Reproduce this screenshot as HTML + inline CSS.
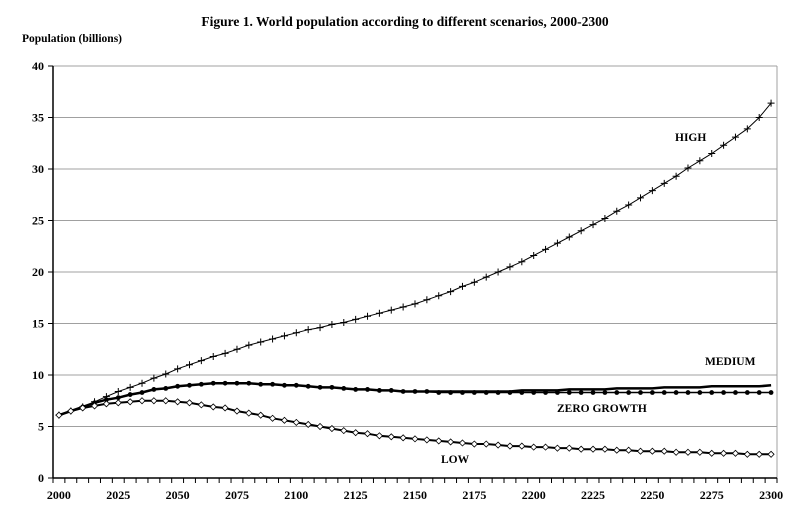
<!DOCTYPE html>
<html><head><meta charset="utf-8"><style>
body{margin:0;background:#fff;}
svg{display:block;font-family:"Liberation Serif",serif;font-weight:bold;}
</style></head><body>
<svg id="c" width="811" height="522">
<text x="405" y="26" text-anchor="middle" font-size="13.5">Figure 1. World population according to different scenarios, 2000-2300</text>
<text x="22" y="42" font-size="11.5">Population (billions)</text>
<g id="grid"></g><g id="series"></g><g id="axes"></g>
<text x="675" y="141" font-size="11.5">HIGH</text>
<text x="705" y="365" font-size="11.5">MEDIUM</text>
<text x="557" y="412" font-size="11.5">ZERO GROWTH</text>
<text x="441" y="463" font-size="11.5">LOW</text>
</svg>
<script>
const yTicks=[0,5,10,15,20,25,30,35,40];
const xLabels=[2000,2025,2050,2075,2100,2125,2150,2175,2200,2225,2250,2275,2300];
const years=[];for(let y=2000;y<=2300;y+=5)years.push(y);
const high=[6.1,6.5,6.9,7.4,7.9,8.4,8.8,9.2,9.7,10.1, 10.6,11.0,11.4,11.8,12.1,12.5,12.9,13.2,13.5,13.8, 14.1,14.4,14.6,14.9,15.1,15.4,15.7,16.0,16.3,16.6, 16.9,17.3,17.7,18.1,18.6,19.0,19.5,20.0,20.5,21.0, 21.6,22.2,22.8,23.4,24.0,24.6,25.2,25.9,26.5,27.2, 27.9,28.6,29.3,30.1,30.8,31.5,32.3,33.1,33.9,35.0,36.4];
const medium=[6.1,6.5,6.9,7.3,7.6,7.8,8.1,8.3,8.6,8.7, 8.9,9.0,9.1,9.2,9.2,9.2,9.2,9.1,9.1,9.0, 9.0,8.9,8.8,8.8,8.7,8.6,8.6,8.5,8.5,8.4, 8.4,8.4,8.4,8.4,8.4,8.4,8.4,8.4,8.4,8.5, 8.5,8.5,8.5,8.6,8.6,8.6,8.6,8.7,8.7,8.7, 8.7,8.8,8.8,8.8,8.8,8.9,8.9,8.9,8.9,8.9,9.0];
const zero=[6.1,6.5,6.9,7.3,7.6,7.8,8.1,8.3,8.6,8.7, 8.9,9.0,9.1,9.2,9.2,9.2,9.2,9.1,9.1,9.0, 9.0,8.9,8.8,8.8,8.7,8.6,8.6,8.5,8.5,8.4, 8.4,8.4,8.3,8.3,8.3,8.3,8.3,8.3,8.3,8.3, 8.3,8.3,8.3,8.3,8.3,8.3,8.3,8.3,8.3,8.3, 8.3,8.3,8.3,8.3,8.3,8.3,8.3,8.3,8.3,8.3,8.3];
const low=[6.1,6.5,6.8,7.0,7.2,7.3,7.4,7.5,7.5,7.5, 7.4,7.3,7.1,6.9,6.8,6.5,6.3,6.1,5.8,5.6, 5.4,5.2,5.0,4.8,4.6,4.4,4.3,4.1,4.0,3.9, 3.8,3.7,3.6,3.5,3.4,3.3,3.3,3.2,3.1,3.1, 3.0,3.0,2.9,2.9,2.8,2.8,2.8,2.7,2.7,2.6, 2.6,2.6,2.5,2.5,2.5,2.4,2.4,2.4,2.3,2.3,2.3];

const NS="http://www.w3.org/2000/svg";
const L=53,R=777,T=66,B=478,yMax=40;
const cw=(R-L)/years.length;
const xs=yr=>L+((yr-2000)/5+0.5)*cw;
const ys=v=>B-v/yMax*(B-T);
function mk(tag,attrs,parent){const e=document.createElementNS(NS,tag);for(const k in attrs)e.setAttribute(k,attrs[k]);parent.appendChild(e);return e;}
const grid=document.getElementById('grid'),axes=document.getElementById('axes'),ser=document.getElementById('series');
yTicks.forEach(v=>{
  if(v>0){const g=mk('line',{x1:L,x2:R,y1:ys(v),y2:ys(v),stroke:'#a0a0a0','stroke-width':1},grid);
  
  }
  const t=mk('line',{x1:L-5,x2:L,y1:ys(v),y2:ys(v),stroke:'#000'},axes);
  
  
  const tx=mk('text',{x:L-9,y:ys(v)+4,'text-anchor':'end','font-size':12},axes);tx.textContent=v;
  
  
});
const rb=mk('line',{x1:R,x2:R,y1:T,y2:B,stroke:'#a0a0a0'},grid);


const ya=mk('line',{x1:L,x2:L,y1:T,y2:B,stroke:'#000','stroke-width':1.5},axes);


const xa=mk('line',{x1:L,x2:R,y1:B,y2:B,stroke:'#000','stroke-width':1.5},axes);


for(let i=0;i<=years.length;i++){const x=L+i*cw;const t=mk('line',{x1:x,x2:x,y1:B,y2:B+5,stroke:'#000'},axes);
  
  }
xLabels.forEach(yr=>{const t=mk('text',{x:xs(yr),y:B+21,'text-anchor':'middle','font-size':12},axes);t.textContent=yr;
  
  });
function line(data,name,w){
  const d=data.map((v,i)=>(i?'L':'M')+xs(years[i]).toFixed(1)+','+ys(v).toFixed(1)).join('');
  const p=mk('path',{d:d,fill:'none',stroke:'#000','stroke-width':w},ser);
  
  
}
line(high,'high',1);line(medium,'medium',2.5);line(zero,'zero-growth',1.5);line(low,'low',2);
high.forEach((v,i)=>{const x=xs(years[i]),y=ys(v);
  const m=mk('path',{d:`M${x-3.5},${y}h7M${x},${y-3.5}v7`,stroke:'#000','stroke-width':1},ser);
  
  });
zero.forEach((v,i)=>{const m=mk('circle',{cx:xs(years[i]),cy:ys(v),r:2.4,fill:'#000'},ser);
  
  });
low.forEach((v,i)=>{const x=xs(years[i]),y=ys(v);
  const m=mk('path',{d:`M${x},${y-3}L${x+3},${y}L${x},${y+3}L${x-3},${y}Z`,fill:'#fff',stroke:'#000','stroke-width':0.8},ser);
  
  });
</script>
</body></html>
